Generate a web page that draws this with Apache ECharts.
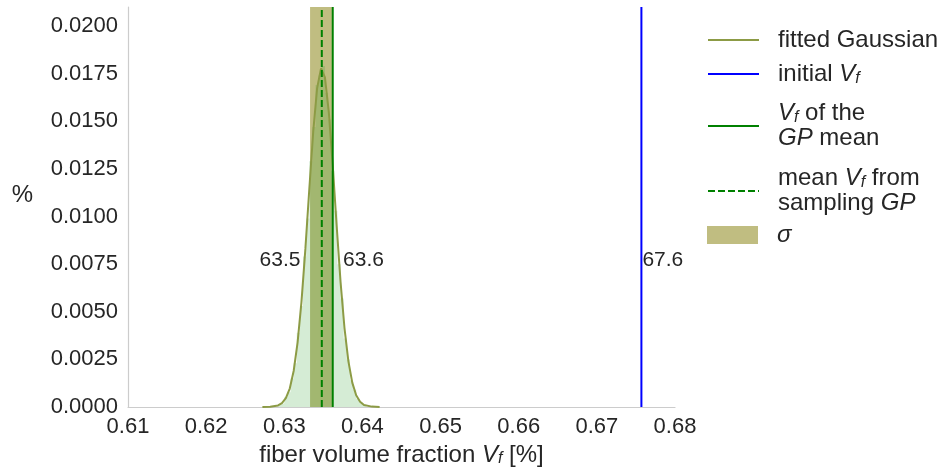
<!DOCTYPE html>
<html>
<head>
<meta charset="utf-8">
<script src="https://cdn.jsdelivr.net/npm/echarts@6/dist/echarts.min.js"></script>
<style>html,body{margin:0;padding:0;background:#fff}#c{width:943px;height:470px}</style>
</head>
<body>
<div id="c"></div>
<script>
// ---- data ----
const gaussX = [0.6272,0.6282,0.6292,0.6297,0.6302,0.6307,0.6312,0.6317,0.6322,0.6327,0.6332,0.6337,0.6342,0.6347,0.6352,0.6357,0.6362,0.6367,0.6372,0.6377,0.6382,0.6387,0.6392,0.6397,0.6402,0.6412,0.6422];
const gaussY = [0.00000,0.00001,0.00008,0.00020,0.00046,0.00097,0.00189,0.00338,0.00552,0.00830,0.01143,0.01444,0.01673,0.01777,0.01731,0.01547,0.01268,0.00953,0.00657,0.00416,0.00241,0.00128,0.00062,0.00028,0.00011,0.00002,0.00000];
const histX = [0.6288,0.6290,0.6294,0.6298,0.6302,0.6306,0.6310,0.6314,0.6318,0.6322,0.6326,0.6330,0.6334,0.6338,0.6342,0.6346,0.6350,0.6354,0.6358,0.6362,0.6366,0.6370,0.6374,0.6378,0.6382,0.6386,0.6390,0.6394,0.6398,0.6402,0.6406,0.6408];
const histY = [0,0.00004,0.00013,0.00020,0.00052,0.00078,0.00150,0.00230,0.00390,0.00530,0.00790,0.00990,0.01290,0.01470,0.01690,0.01740,0.01790,0.01650,0.01510,0.01240,0.01030,0.00750,0.00570,0.00360,0.00250,0.00140,0.00090,0.00043,0.00026,0.00010,0.00006,0];
const initialVf = 0.6757;
const gpMeanVf = 0.6362;
const sampledMeanVf = 0.6348;
const sigmaRange = [0.6333, 0.6361];
const labelTexts = ['63.5', '63.6', '67.6'];
const labelX = [0.6322, 0.6374, 0.6757];
const labelY = [0.0077, 0.0077, 0.0077];
const labelSide = ['left', 'right', 'right'];
const yRange = [0, 0.021];
const seriesNames = ['fitted Gaussian', 'initial Vf', 'Vf of the GP mean', 'mean Vf from sampling GP', 'σ'];
const legendTexts = ['fitted Gaussian', 'initial {i|V}{s|f}', '{i|V}{s|f} of the\n{i|GP} mean', 'mean {i|V}{s|f} from\nsampling {i|GP}', '{i|σ}'];

const FONT = 'Liberation Sans';
const TXT = '#262626';
const chart = echarts.init(document.getElementById('c'), null, {renderer: 'canvas'});

const richLegend = {
  i: {fontStyle: 'italic', fontSize: 24, fontFamily: FONT, color: TXT, lineHeight: 25},
  s: {fontStyle: 'italic', fontSize: 16, fontFamily: FONT, color: TXT, lineHeight: 25, verticalAlign: 'bottom', padding: [8, 0, 0, 0]}
};
const legendTops = [27.5, 61.5, 101, 166, 222.5];
const legends = seriesNames.map((n, k) => ({
  data: [k === 4 ? {name: n, icon: 'rect'} : n],
  orient: 'vertical', left: 707, top: legendTops[k], padding: 0,
  itemWidth: 51, itemHeight: 18, selectedMode: false,
  itemStyle: k === 4 ? {} : {opacity: 0, borderWidth: 0},
  formatter: () => legendTexts[k],
  textStyle: {fontFamily: FONT, fontSize: 24, color: TXT, lineHeight: 25, padding: [0, 0, 0, 14], rich: richLegend}
}));

const vLine = (name, x, color, type, z) => ({
  name, type: 'line', symbol: 'none', color, z, silent: true,
  data: [[x, yRange[0]], [x, yRange[1]]],
  lineStyle: {color, width: 2, type}
});

chart.setOption({
  animation: false,
  backgroundColor: '#fff',
  grid: {left: 128, right: 268, top: 7, bottom: 63, containLabel: false, outerBoundsMode: 'none'},
  legend: legends,
  xAxis: {
    type: 'value', min: 0.61, max: 0.68, interval: 0.01,
    axisLine: {show: true, lineStyle: {color: '#cccccc', width: 1.2}},
    axisTick: {show: false}, splitLine: {show: false},
    axisLabel: {fontFamily: FONT, fontSize: 22, color: TXT, margin: 9, formatter: v => v.toFixed(2)},
    name: 'fiber volume fraction {i|V}{s|f} [%]', nameLocation: 'middle', nameGap: 29,
    nameTextStyle: {fontFamily: FONT, fontSize: 24, color: TXT,
      rich: {i: {fontStyle: 'italic', fontSize: 24, fontFamily: FONT, color: TXT},
             s: {fontStyle: 'italic', fontSize: 16, fontFamily: FONT, color: TXT, verticalAlign: 'bottom', padding: [8, 0, 0, 0]}}}
  },
  yAxis: {
    type: 'value', min: yRange[0], max: yRange[1], interval: 0.0025,
    axisLine: {show: true, lineStyle: {color: '#cccccc', width: 1.2}},
    axisTick: {show: false}, splitLine: {show: false},
    axisLabel: {fontFamily: FONT, fontSize: 22, color: TXT, margin: 10, showMaxLabel: false, formatter: v => v.toFixed(4)},
    name: '%', nameLocation: 'middle', nameRotate: 0, nameGap: 95,
    nameTextStyle: {fontFamily: FONT, fontSize: 24, color: TXT, verticalAlign: 'bottom'}
  },
  series: [
    {
      name: 'σ', type: 'line', data: [], symbol: 'none', color: '#c0bd81', z: 1,
      itemStyle: {color: '#c0bd81'},
      markArea: {silent: true, itemStyle: {color: '#c0bd81', opacity: 1},
        data: [[{xAxis: sigmaRange[0]}, {xAxis: sigmaRange[1]}]]}
    },
    {
      name: 'hist', type: 'line', step: 'middle', symbol: 'none', z: 2, silent: true,
      data: histX.map((x, k) => [x, histY[k]]),
      lineStyle: {width: 0, opacity: 0},
      areaStyle: {color: '#2ca02c', opacity: 0.2}
    },
    {
      name: 'fitted Gaussian', type: 'line', symbol: 'none', z: 3, color: '#8c9b45', silent: true,
      data: gaussX.map((x, k) => [x, gaussY[k]]),
      lineStyle: {color: '#8c9b45', width: 2}
    },
    vLine('initial Vf', initialVf, '#0000ff', 'solid', 4),
    vLine('Vf of the GP mean', gpMeanVf, '#008000', 'solid', 4),
    vLine('mean Vf from sampling GP', sampledMeanVf, '#008000', [7, 3], 4),
    {
      name: 'labels', type: 'scatter', symbolSize: 0, z: 5, silent: true,
      itemStyle: {opacity: 1},
      data: labelX.map((x, k) => ({value: [x, labelY[k]],
        label: {show: true, position: labelSide[k], distance: 1, formatter: labelTexts[k],
          fontFamily: FONT, fontSize: 21, color: TXT, opacity: 1, textBorderWidth: 0}}))
    }
  ]
});
</script>
</body>
</html>
